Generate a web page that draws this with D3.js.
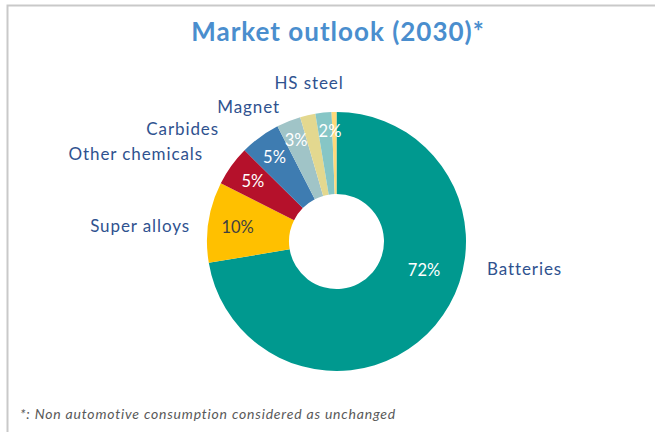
<!DOCTYPE html>
<html>
<head>
<meta charset="utf-8">
<script src="https://cdn.jsdelivr.net/npm/d3@7/dist/d3.min.js"></script>
<style>
  html, body { margin: 0; padding: 0; background: #ffffff; }
  svg { display: block; }
</style>
</head>
<body>
<script>
// Market share by end use, 2030 outlook (percent)
const categories = ["Batteries", "Super alloys", "Other chemicals", "Carbides", "Magnet", "", "HS steel", ""];
const shares = [72, 10, 5, 5, 3, 1.9, 2, 0.6];
const shareLabels = ["72%", "10%", "5%", "5%", "3%", "", "2%", ""];
const colors = ["#00998F", "#FFC000", "#B5112B", "#3E7CB1", "#A0C4C7", "#E3D88F", "#86C6C6", "#FFD97A"];
const pctColors = ["#ffffff", "#404040", "#ffffff", "#ffffff", "#ffffff", "#ffffff", "#ffffff", "#ffffff"];

const W = 655, H = 432;
const cx = 336.5, cy = 241.5;
const outerR = 129.5, innerR = 47.5;

// Placement of the category names around the ring (offsets from the centre, text baseline)
const nameLayout = [
  { dx: 150.5, dy: 33.5, anchor: "start" },
  { dx: -146.5, dy: -9.5, anchor: "end" },
  { dx: -133.5, dy: -81.5, anchor: "end" },
  { dx: -117.5, dy: -106.5, anchor: "end" },
  { dx: -56.5, dy: -128.5, anchor: "end" },
  null,
  { dx: -27.5, dy: -152.5, anchor: "middle" },
  null
];
// Radius of each percentage label, with an optional absolute angle or a shift from the slice middle (radians)
const pctLayout = [
  { r: 92, angle: 1.885 },
  { r: 100 }, { r: 103 }, { r: 105 }, { r: 109 }, null, { r: 111, shift: 0.042 }, null
];

const svg = d3.select("body").append("svg")
  .attr("width", W).attr("height", H);

// Frame
svg.append("path")
  .attr("d", `M7.5,${H + 5} L7.5,5.5 L${W + 5},5.5`)
  .attr("fill", "none")
  .attr("stroke", "#C9C9C9")
  .attr("stroke-width", 2);

// Title
svg.append("text")
  .attr("x", 338).attr("y", 41)
  .attr("text-anchor", "middle")
  .attr("font-family", "Lato, 'Open Sans', sans-serif")
  .attr("font-weight", "bold")
  .attr("font-size", 26)
  .attr("letter-spacing", 1)
  .attr("fill", "#4A8ECE")
  .text("Market outlook (2030)*");

const data = categories.map((c, i) => ({ name: c, value: shares[i], label: shareLabels[i], i }));

const pie = d3.pie().sort(null).value(d => d.value);
const arcs = pie(data);
const arc = d3.arc().innerRadius(innerR).outerRadius(outerR);

const g = svg.append("g").attr("transform", `translate(${cx},${cy})`);

g.selectAll("path.slice")
  .data(arcs)
  .join("path")
  .attr("class", "slice")
  .attr("d", arc)
  .attr("fill", d => colors[d.data.i]);

// Percentage labels inside the ring
g.selectAll("text.pct")
  .data(arcs.filter(d => d.data.label))
  .join("text")
  .attr("class", "pct")
  .attr("transform", d => {
    const L = pctLayout[d.data.i];
    const mid = (d.startAngle + d.endAngle) / 2;
    const a = L.angle !== undefined ? L.angle : mid + (L.shift || 0);
    return `translate(${Math.sin(a) * L.r},${-Math.cos(a) * L.r})`;
  })
  .attr("text-anchor", "middle")
  .attr("dy", "0.36em")
  .attr("font-family", "Lato, 'Open Sans', sans-serif")
  .attr("font-size", 16.5)
  .attr("fill", d => pctColors[d.data.i])
  .text(d => d.data.label);

// Category names outside the ring
g.selectAll("text.name")
  .data(arcs.filter(d => nameLayout[d.data.i]))
  .join("text")
  .attr("class", "name")
  .attr("x", d => nameLayout[d.data.i].dx)
  .attr("y", d => nameLayout[d.data.i].dy)
  .attr("text-anchor", d => nameLayout[d.data.i].anchor)
  .attr("font-family", "Lato, 'Open Sans', sans-serif")
  .attr("font-size", 17)
  .attr("letter-spacing", 0.9)
  .attr("fill", "#2F528F")
  .text(d => d.data.name);

// Footnote
svg.append("text")
  .attr("x", 20).attr("y", 419)
  .attr("font-family", "Lato, 'Open Sans', sans-serif")
  .attr("font-style", "italic")
  .attr("font-size", 14)
  .attr("letter-spacing", 0.8)
  .attr("fill", "#595959")
  .text("*: Non automotive consumption considered as unchanged");
</script>
</body>
</html>
